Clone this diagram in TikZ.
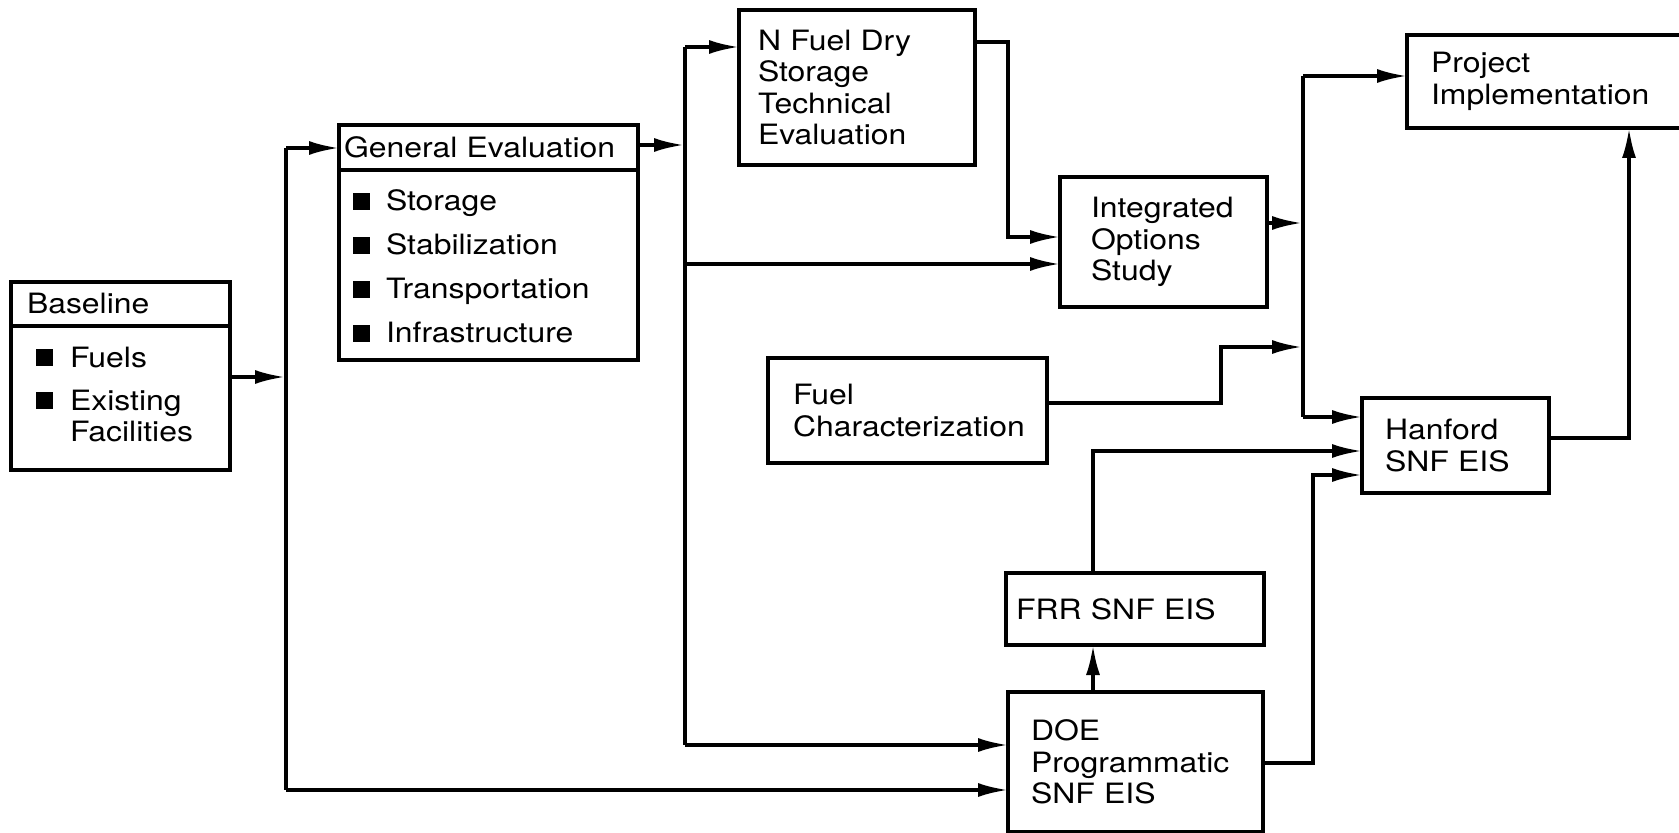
\documentclass[tikz,border=0pt]{standalone}
\usepackage{fontspec}
\setmainfont{TeX Gyre Heros}[FakeStretch=1.14]
\usepackage{tikz}
\usetikzlibrary{arrows.meta, positioning}

\newcommand{\sqbul}{\rule[0.5pt]{8.5pt}{8.5pt}}

\begin{document}
\begin{tikzpicture}[
    x=0.5pt, y=-0.5pt,
    fnode/.style={rectangle, draw=black, line width=1.7pt, outer sep=0pt, align=left, inner sep=0pt, font=\fontsize{14}{15.75}\selectfont},
    arr/.style={-{Latex[length=15pt,width=7pt]}, line width=1.7pt},
    trunk/.style={line width=1.7pt}
]
\useasboundingbox (0,0) rectangle (1679,833);

% boxes
\node[fnode, minimum width=109.5pt, minimum height=22pt, text width=93.5pt] (basehead) at (120.5,304) {Baseline};
\node[fnode, below=0pt of basehead, minimum width=109.5pt, minimum height=72pt, text width=84.5pt] (basebody)
    {\begin{tabular}{@{}l@{\hspace{8.5pt}}l@{}}\sqbul & Fuels\\[5.75pt] \sqbul & Existing\\ & Facilities\end{tabular}};
\node[fnode, minimum width=149.5pt, minimum height=22.5pt, text width=144.5pt] (gehead) at (488.5,147.5) {General Evaluation};
\node[fnode, below=0pt of gehead, minimum width=149.5pt, minimum height=95pt, text width=135.5pt] (gebody)
    {\raisebox{-2.7pt}[\height][\depth]{\begin{tabular}{@{}l@{\hspace{8pt}}l@{}}\sqbul & Storage\\[6.25pt] \sqbul & Stabilization\\[6.25pt] \sqbul & Transportation\\[6.25pt] \sqbul & Infrastructure\end{tabular}}};
\node[fnode, minimum width=118pt, minimum height=77.5pt, text width=99pt] (nfuel) at (857,87.5) {N Fuel Dry\\Storage\\Technical\\Evaluation};
\node[fnode, minimum width=103.5pt, minimum height=65pt, text width=72.5pt] (integ) at (1163.5,242) {Integrated\\Options\\Study};
\node[fnode, minimum width=156.5pt, minimum height=46.5pt, text width=132.5pt] (proj) at (1563.5,81.5) {Project\\Implementation};
\node[fnode, minimum width=139.5pt, minimum height=52.5pt, text width=114.5pt] (fuelch) at (907.5,410.5) {Fuel\\Characterization};
\node[fnode, minimum width=93.5pt, minimum height=47.5pt, text width=70.5pt] (hanf) at (1455.5,445.5) {Hanford\\SNF EIS};
\node[fnode, minimum width=129pt, minimum height=36pt, text width=119pt] (frr) at (1135,609) {FRR SNF EIS};
\node[fnode, minimum width=127.5pt, minimum height=70pt, text width=104.5pt] (doe) at (1135.5,762) {DOE\\Programmatic\\SNF EIS};

% junction points
\coordinate (jbase) at (285,377);
\coordinate (ta1) at (286,148);
\coordinate (ta2) at (286,790);
\coordinate (jge) at (684,145);
\coordinate (tb1) at (685,47);
\coordinate (tb2) at (685,264);
\coordinate (tb3) at (685,745);
\coordinate (nfout) at (1008,42);
\coordinate (nfin) at (1008,237);
\coordinate (jint) at (1302,223);
\coordinate (tc1) at (1303,76);
\coordinate (tc2) at (1303,417);
\coordinate (fcbend) at (1221,403);
\coordinate (jfc) at (1302,347);
\coordinate (frrup) at (1093,451);
\coordinate (doeout) at (1313,763);
\coordinate (doein) at (1313,475);
\coordinate (hanout) at (1629,438);

% left trunk
\draw[arr] (basebody.east |- jbase) -- (jbase);
\draw[trunk] (ta1) -- (ta2);
\draw[arr] (ta1) -- (ta1 -| gehead.west);
\draw[arr] (ta2) -- (ta2 -| doe.west);

% middle trunk
\draw[arr] (gehead.east |- jge) -- (jge);
\draw[trunk] (tb1) -- (tb3);
\draw[arr] (tb1) -- (tb1 -| nfuel.west);
\draw[arr] (tb2) -- (tb2 -| integ.west);
\draw[arr] (tb3) -- (tb3 -| doe.west);
\draw[arr] (nfuel.east |- nfout) -- (nfout) -- (nfin) -- (nfin -| integ.west);

% right trunk
\draw[arr] (integ.east |- jint) -- (jint);
\draw[trunk] (tc1) -- (tc2);
\draw[arr] (tc1) -- (tc1 -| proj.west);
\draw[arr] (tc2) -- (tc2 -| hanf.west);
\draw[arr] (fuelch.east |- fcbend) -- (fcbend) |- (jfc);

% EIS chain
\draw[arr] (doe.north -| frrup) -- (frr.south -| frrup);
\draw[arr] (frr.north -| frrup) -- (frrup) -- (frrup -| hanf.west);
\draw[arr] (doe.east |- doeout) -- (doeout) -- (doein) -- (doein -| hanf.west);
\draw[arr] (hanf.east |- hanout) -- (hanout) -- (hanout |- proj.south);

\end{tikzpicture}
\end{document}
